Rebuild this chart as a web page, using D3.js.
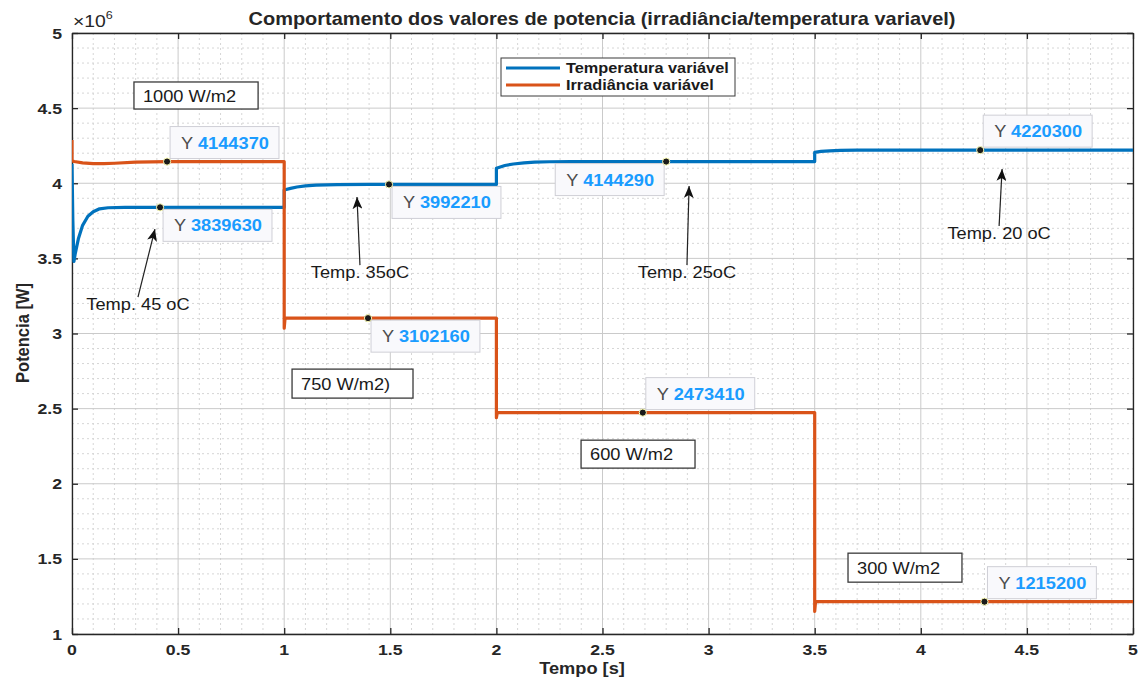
<!DOCTYPE html>
<html>
<head>
<meta charset="utf-8">
<script src="https://cdn.jsdelivr.net/npm/d3@7"></script>
<style>
  body { margin: 0; background: #fff; }
  text { font-family: "Liberation Sans", Arial, Helvetica, sans-serif; }
</style>
</head>
<body>
<svg id="chart" width="1141" height="679"></svg>
<script>
// ---- Data: PV power under variable temperature / irradiance ----
// Temperature-varying run: time [s] and power [W]
const tempoTemp = [0, 0.004, 0.009, 0.015, 0.03, 0.05, 0.075, 0.10, 0.13, 0.17, 0.25, 1.0,
                   1.0, 1.03, 1.06, 1.10, 1.15, 1.25, 1.40, 2.0,
                   2.0, 2.04, 2.08, 2.13, 2.18, 2.25, 2.35, 3.5,
                   3.5, 3.53, 3.57, 3.62, 3.70, 5.0];
const potTemp = [4130000, 3750000, 3480000, 3530000, 3630000, 3720000, 3780000, 3810000, 3830000, 3837000, 3839630, 3839630,
                 3955000, 3966000, 3975000, 3983000, 3988000, 3991000, 3992210, 3992210,
                 4100000, 4118000, 4128000, 4136000, 4140000, 4143000, 4144290, 4144290,
                 4205000, 4212000, 4216000, 4219000, 4220300, 4220300];

// Irradiance-varying run: time [s] and power [W]
const tempoIrr = [0, 0, 0.01, 0.05, 0.10, 0.15, 0.20, 0.30, 0.45, 1.0,
                  1.0, 1.004, 2.0, 2.0, 2.004, 3.5, 3.5, 3.504, 5.0];
const potIrr = [4288000, 4150000, 4145000, 4136000, 4130000, 4130000, 4133000, 4140000, 4144370, 4144370,
                3035000, 3102160, 3102160, 2440000, 2473410, 2473410, 1150000, 1215200, 1215200];

const seriesNames = ["Temperatura variável", "Irradiância variável"];

// Axis ticks
const xTicks = [0, 0.5, 1, 1.5, 2, 2.5, 3, 3.5, 4, 4.5, 5];
const xTickLabels = ["0", "0.5", "1", "1.5", "2", "2.5", "3", "3.5", "4", "4.5", "5"];
const yTicks = [1e6, 1.5e6, 2e6, 2.5e6, 3e6, 3.5e6, 4e6, 4.5e6, 5e6];
const yTickLabels = ["1", "1.5", "2", "2.5", "3", "3.5", "4", "4.5", "5"];

// Data tips: time, value, series index (0 = temperature, 1 = irradiance)
const tipTimes = [0.448, 0.415, 1.494, 1.395, 2.69, 2.80, 4.28, 4.30];
const tipValues = [4144370, 3839630, 3992210, 3102160, 2473410, 4144290, 4220300, 1215200];
const tipSeries = [1, 0, 0, 1, 1, 0, 0, 1];

// Annotation texts
const irrLabels = ["1000 W/m2", "750 W/m2)", "600 W/m2", "300 W/m2"];
const tempLabels = ["Temp. 45 oC", "Temp. 35oC", "Temp. 25oC", "Temp. 20 oC"];

// ---- Layout ----
const plot = { left: 72, right: 1133, top: 33, bottom: 634 };
const SX = 1.14;                 // horizontal glyph stretch of the figure text
const colors = ["#0072BD", "#D95319"];
const axisColor = "#262626";

// where each data tip box sits relative to its marker
const tipPlace = ["ne", "se", "se", "se", "ne", "sw", "ne", "ne"];
// irradiance text boxes, in data units [t0, t1, Ptop, Pbottom]
const irrBoxes = [[0.292, 0.877, 4674000, 4494000],
                  [1.037, 1.607, 2763000, 2570000],
                  [2.399, 2.936, 2290000, 2104000],
                  [3.657, 4.194, 1538000, 1345000]];
// temperature arrows, in data units: tail [t, P] -> head [t, P]
const tempArrows = [[[0.311, 3242000], [0.391, 3695000]],
                    [[1.357, 3455000], [1.343, 3908000]],
                    [[2.898, 3455000], [2.908, 3981000]],
                    [[4.369, 3715000], [4.383, 4095000]]];

const svg = d3.select("#chart");
const x = d3.scaleLinear().domain([0, 5]).range([plot.left, plot.right]);
const y = d3.scaleLinear().domain([1e6, 5e6]).range([plot.bottom, plot.top]);

// text helper with the horizontal stretch applied
function label(g, px, py, str, opts = {}) {
  return g.append("text")
    .attr("transform", `translate(${px},${py}) scale(${SX},1)`)
    .attr("text-anchor", opts.anchor || "start")
    .attr("font-size", opts.size || 15)
    .attr("font-weight", opts.weight || "normal")
    .attr("fill", opts.fill || axisColor)
    .text(str);
}

// ---- Grid ----
const grid = svg.append("g");
const minorX = d3.range(0, 5.0001, 0.1).filter(v => Math.abs(v * 2 - Math.round(v * 2)) > 1e-6);
const minorY = d3.range(1e6, 5e6 + 1, 1e5).filter(v => Math.abs(v / 5e5 - Math.round(v / 5e5)) > 1e-6);
grid.selectAll(".mx").data(minorX).join("line")
  .attr("x1", d => x(d)).attr("x2", d => x(d))
  .attr("y1", plot.top).attr("y2", plot.bottom)
  .attr("stroke", "#d6d6d6").attr("stroke-width", 1).attr("stroke-dasharray", "2,3");
grid.selectAll(".my").data(minorY).join("line")
  .attr("y1", d => y(d)).attr("y2", d => y(d))
  .attr("x1", plot.left).attr("x2", plot.right)
  .attr("stroke", "#d6d6d6").attr("stroke-width", 1).attr("stroke-dasharray", "2,3");
grid.selectAll(".gx").data(xTicks).join("line")
  .attr("x1", d => x(d)).attr("x2", d => x(d))
  .attr("y1", plot.top).attr("y2", plot.bottom)
  .attr("stroke", "#cacaca").attr("stroke-width", 1);
grid.selectAll(".gy").data(yTicks).join("line")
  .attr("y1", d => y(d)).attr("y2", d => y(d))
  .attr("x1", plot.left).attr("x2", plot.right)
  .attr("stroke", "#cacaca").attr("stroke-width", 1);

// ---- Axes (box with inward ticks on all sides) ----
const tickLen = 6;
const axB = svg.append("g").attr("transform", `translate(0,${plot.bottom})`)
  .call(d3.axisBottom(x).tickValues(xTicks).tickSizeInner(-tickLen).tickSizeOuter(0).tickFormat(""));
const axT = svg.append("g").attr("transform", `translate(0,${plot.top})`)
  .call(d3.axisTop(x).tickValues(xTicks).tickSizeInner(-tickLen).tickSizeOuter(0).tickFormat(""));
const axL = svg.append("g").attr("transform", `translate(${plot.left},0)`)
  .call(d3.axisLeft(y).tickValues(yTicks).tickSizeInner(-tickLen).tickSizeOuter(0).tickFormat(""));
const axR = svg.append("g").attr("transform", `translate(${plot.right},0)`)
  .call(d3.axisRight(y).tickValues(yTicks).tickSizeInner(-tickLen).tickSizeOuter(0).tickFormat(""));
[axB, axT, axL, axR].forEach(a => {
  a.select(".domain").attr("stroke", axisColor).attr("stroke-width", 1.3);
  a.selectAll(".tick line").attr("stroke", axisColor).attr("stroke-width", 1.3);
});

const labels = svg.append("g");
xTicks.forEach((v, i) => label(labels, x(v), plot.bottom + 21, xTickLabels[i], { anchor: "middle", weight: "bold", size: 15.5 }));
yTicks.forEach((v, i) => label(labels, plot.left - 10, y(v) + 5.5, yTickLabels[i], { anchor: "end", weight: "bold", size: 15.5 }));

// exponent marker
const ex = label(labels, plot.left + 1, plot.top - 6, "×10", { size: 17 });
ex.append("tspan").attr("font-size", 11).attr("dy", -8).text("6");

// title and axis titles
label(labels, 602, 25, "Comportamento dos valores de potencia (irradiância/temperatura variavel)", { anchor: "middle", weight: "bold", size: 17.5 });
label(labels, 582, 674, "Tempo [s]", { anchor: "middle", weight: "bold", size: 16 });
labels.append("text")
  .attr("transform", `translate(29,333) rotate(-90) scale(1,${SX})`)
  .attr("text-anchor", "middle").attr("font-size", 16.5).attr("font-weight", "bold")
  .attr("fill", axisColor).text("Potencia [W]");

// ---- Series ----
svg.append("clipPath").attr("id", "clip").append("rect")
  .attr("x", plot.left).attr("y", plot.top)
  .attr("width", plot.right - plot.left).attr("height", plot.bottom - plot.top);
const line = d3.line().x(d => x(d[0])).y(d => y(d[1]));
const series = [d3.zip(tempoTemp, potTemp), d3.zip(tempoIrr, potIrr)];
const lines = svg.append("g").attr("clip-path", "url(#clip)");
series.forEach((s, i) => {
  lines.append("path").datum(s).attr("d", line)
    .attr("fill", "none").attr("stroke", colors[i]).attr("stroke-width", 3.2)
    .attr("stroke-linejoin", "round");
});

// ---- Irradiance text boxes ----
const boxes = svg.append("g");
irrBoxes.forEach((b, i) => {
  const x0 = x(b[0]), x1 = x(b[1]), y0 = y(b[2]), y1 = y(b[3]);
  boxes.append("rect").attr("x", x0).attr("y", y0).attr("width", x1 - x0).attr("height", y1 - y0)
    .attr("fill", "#fff").attr("stroke", "#3a3a3a").attr("stroke-width", 1.3);
  label(boxes, x0 + 9, (y0 + y1) / 2 + 6, irrLabels[i], { size: 16, fill: "#1a1a1a" });
});

// ---- Temperature arrows ----
svg.append("defs").append("marker").attr("id", "head")
  .attr("viewBox", "0 0 12 10").attr("refX", 12).attr("refY", 5)
  .attr("markerWidth", 12).attr("markerHeight", 10).attr("markerUnits", "userSpaceOnUse")
  .attr("orient", "auto")
  .append("path").attr("d", "M0,0 L12,5 L0,10 L3,5 Z").attr("fill", "#111");
const arrows = svg.append("g");
tempArrows.forEach((a, i) => {
  const tx = x(a[0][0]), ty = y(a[0][1]), hx = x(a[1][0]), hy = y(a[1][1]);
  arrows.append("line").attr("x1", tx).attr("y1", ty).attr("x2", hx).attr("y2", hy)
    .attr("stroke", "#222").attr("stroke-width", 1.2).attr("marker-end", "url(#head)");
  label(arrows, tx, ty + 13, tempLabels[i], { anchor: "middle", size: 16, fill: "#1a1a1a" });
});

// ---- Data tips ----
const tips = svg.append("g");
tipTimes.forEach((t, i) => {
  const mx = x(t), my = y(tipValues[i]);
  const g = tips.append("g");
  const rect = g.append("rect");
  const txt = g.append("text").attr("font-size", 16);
  txt.append("tspan").attr("fill", "#4d4d4d").text("Y ");
  txt.append("tspan").attr("fill", "#1a9cff").attr("font-weight", "bold").text(String(tipValues[i]));
  const tw = txt.node().getComputedTextLength() * SX;
  const bw = tw + 21, bh = 32;
  const p = tipPlace[i];
  const bx = p.includes("e") ? mx + 3 : mx - 2 - bw;
  const by = p.includes("n") ? my - 3 - bh : my + 2;
  rect.attr("x", bx).attr("y", by).attr("width", bw).attr("height", bh)
    .attr("fill", "#f9f9fc").attr("stroke", "#cfcfd6").attr("stroke-width", 1);
  txt.attr("transform", `translate(${bx + 11},${by + 22}) scale(${SX},1)`);
  g.append("circle").attr("cx", mx).attr("cy", my).attr("r", 3.6)
    .attr("fill", "#1a1a1a").attr("stroke", "#ffffb8").attr("stroke-width", 1);
});

// ---- Legend ----
const leg = svg.append("g");
leg.append("rect").attr("x", 501).attr("y", 58).attr("width", 234).attr("height", 38)
  .attr("fill", "#fff").attr("stroke", "#3a3a3a").attr("stroke-width", 1);
seriesNames.forEach((n, i) => {
  const ly = 68 + i * 17;
  leg.append("line").attr("x1", 506).attr("x2", 560).attr("y1", ly).attr("y2", ly)
    .attr("stroke", colors[i]).attr("stroke-width", 3);
  label(leg, 566, ly + 5, n, { size: 14.3, weight: "bold", fill: "#1a1a1a" });
});
</script>
</body>
</html>
